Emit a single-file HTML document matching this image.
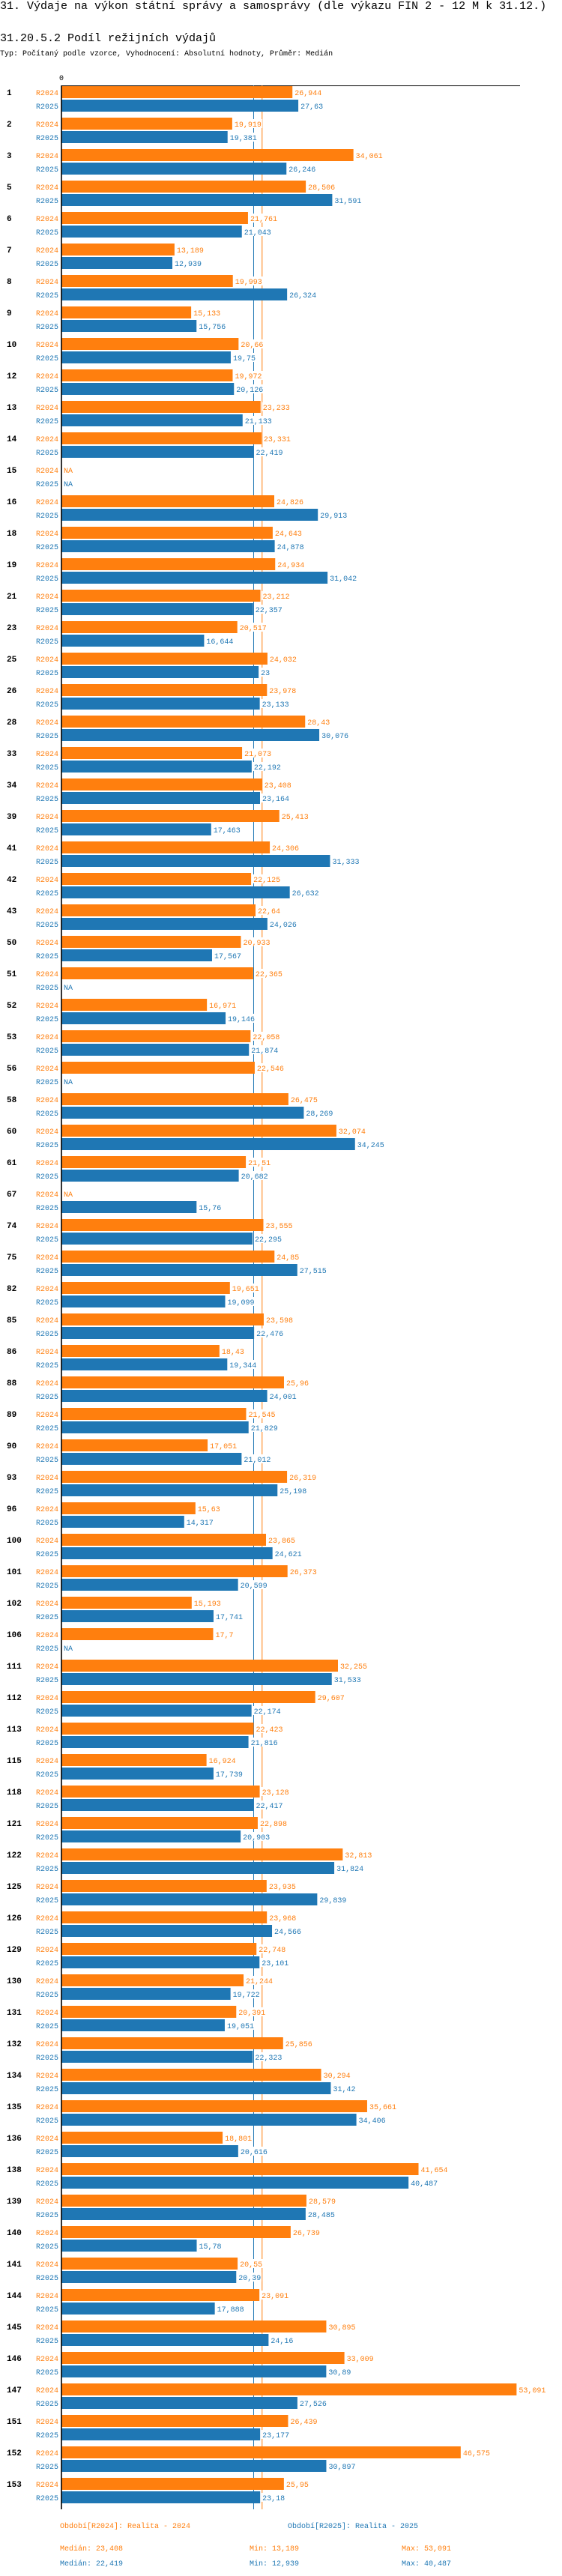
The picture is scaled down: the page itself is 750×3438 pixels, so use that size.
<!DOCTYPE html>
<html><head><meta charset="utf-8">
<style>
html,body{margin:0;padding:0;background:#fff;}
body{width:750px;height:3438px;overflow:hidden;position:relative;font-family:"Liberation Mono",monospace;}
.t{position:absolute;left:0;white-space:nowrap;color:#000;}
</style></head>
<body>
<div class="t" style="top:0px;font-size:15px;">31. Výdaje na výkon státní správy a samosprávy (dle výkazu FIN 2 - 12 M k 31.12.)</div>
<div class="t" style="top:43px;font-size:15px;">31.20.5.2 Podíl režijních výdajů</div>
<div class="t" style="top:67px;font-size:10px;">Typ: Počítaný podle vzorce, Vyhodnocení: Absolutní hodnoty, Průměr: Medián</div>
<svg id="chart" width="750" height="3438" style="position:absolute;left:0;top:0;" xmlns="http://www.w3.org/2000/svg"></svg>
<script>
const categories = ["1","2","3","5","6","7","8","9","10","12","13","14","15","16","18","19","21","23","25","26","28","33","34","39","41","42","43","50","51","52","53","56","58","60","61","67","74","75","82","85","86","88","89","90","93","96","100","101","102","106","111","112","113","115","118","121","122","125","126","129","130","131","132","134","135","136","138","139","140","141","144","145","146","147","151","152","153"];
const values2024 = [26.944,19.919,34.061,28.506,21.761,13.189,19.993,15.133,20.66,19.972,23.233,23.331,null,24.826,24.643,24.934,23.212,20.517,24.032,23.978,28.43,21.073,23.408,25.413,24.306,22.125,22.64,20.933,22.365,16.971,22.058,22.546,26.475,32.074,21.51,null,23.555,24.85,19.651,23.598,18.43,25.96,21.545,17.051,26.319,15.63,23.865,26.373,15.193,17.7,32.255,29.607,22.423,16.924,23.128,22.898,32.813,23.935,23.968,22.748,21.244,20.391,25.856,30.294,35.661,18.801,41.654,28.579,26.739,20.55,23.091,30.895,33.009,53.091,26.439,46.575,25.95];
const values2025 = [27.63,19.381,26.246,31.591,21.043,12.939,26.324,15.756,19.75,20.126,21.133,22.419,null,29.913,24.878,31.042,22.357,16.644,23,23.133,30.076,22.192,23.164,17.463,31.333,26.632,24.026,17.567,null,19.146,21.874,null,28.269,34.245,20.682,15.76,22.295,27.515,19.099,22.476,19.344,24.001,21.829,21.012,25.198,14.317,24.621,20.599,17.741,null,31.533,22.174,21.816,17.739,22.417,20.903,31.824,29.839,24.566,23.101,19.722,19.051,22.323,31.42,34.406,20.616,40.487,28.485,15.78,20.39,17.888,24.16,30.89,27.526,23.177,30.897,23.18];
const seriesNames = ["R2024","R2025"];
const medians = [23.408, 22.419];
const mins = [13.189, 12.939];
const maxs = [53.091, 40.487];

const NS = "http://www.w3.org/2000/svg";
const svg = document.getElementById("chart");
const colors = ["#ff7f0e","#1f77b4"];
const x0 = 82, pxPerUnit = 11.44, top0 = 115, pitch = 42, barH = 16;
const xs = v => x0 + v * pxPerUnit;
const yGroup = i => top0 + i * pitch;
const fmt = v => v === null ? "NA" : String(v).replace(".", ",");
const bottomY = yGroup(categories.length - 1) + 42;

function mk(tag, attrs, parent) {
  const e = document.createElementNS(NS, tag);
  for (const k in attrs) e.setAttribute(k, attrs[k]);
  (parent || svg).appendChild(e);
  return e;
}

let z = mk("text", {x: x0, y: 107, "font-size": 10, "text-anchor": "middle", "font-family": "Liberation Mono, monospace", fill: "#000"});
z.textContent = "0";


let ta = mk("line", {x1: x0, x2: 694, y1: 114.5, y2: 114.5, stroke: "#000", "stroke-width": 1});



medians.forEach((m, s) => {
  const l = mk("line", {x1: xs(m), x2: xs(m), y1: 114, y2: bottomY, stroke: colors[s], "stroke-width": 1});
  
  
});

const series = [values2024, values2025];
categories.forEach((cat, i) => {
  const gy = yGroup(i);
  const g = mk("g", {});
  
  
  const cl = mk("text", {x: 9, y: gy + 12, "font-size": 11, "font-weight": "bold", "font-family": "Liberation Mono, monospace", fill: "#000"}, g);
  cl.textContent = cat;
  
  
  series.forEach((vals, s) => {
    const by = gy + s * 18;
    const v = vals[i];
    const sl = mk("text", {x: 78, y: by + 12, "font-size": 10, "text-anchor": "end", "font-family": "Liberation Mono, monospace", fill: colors[s]}, g);
    sl.textContent = seriesNames[s];
    
    
    let endX = x0;
    if (v !== null) {
      endX = xs(v);
      const r = mk("rect", {x: x0, y: by, width: endX - x0, height: barH, fill: colors[s]}, g);
      
      
    }
    const txt = fmt(v);
    const bg = mk("rect", {x: endX + 2, y: by + 2, width: txt.length * 6 + 2, height: 12, fill: "#fff"}, g);
    
    
    const vl = mk("text", {x: endX + 3, y: by + 12, "font-size": 10, "font-family": "Liberation Mono, monospace", fill: colors[s]}, g);
    vl.textContent = txt;
    
    
  });
});

let ya = mk("line", {x1: x0, x2: x0, y1: 114, y2: bottomY, stroke: "#000", "stroke-width": 1.6});



const footY = 3374;
const legendX = [80, 384];
const legendText = ["Období[R2024]: Realita - 2024", "Období[R2025]: Realita - 2025"];
legendText.forEach((t, s) => {
  const e = mk("text", {x: legendX[s], y: footY, "font-size": 10, "font-family": "Liberation Mono, monospace", fill: colors[s]});
  e.textContent = t;
  
  
});
[0, 1].forEach(s => {
  const y = 3404 + s * 20;
  const a = mk("text", {x: 80, y: y, "font-size": 10, "font-family": "Liberation Mono, monospace", fill: colors[s]});
  a.textContent = "Medián: " + fmt(medians[s]);
  
  
  const b = mk("text", {x: 333, y: y, "font-size": 10, "font-family": "Liberation Mono, monospace", fill: colors[s]});
  b.textContent = "Min: " + fmt(mins[s]);
  
  
  const c = mk("text", {x: 536, y: y, "font-size": 10, "font-family": "Liberation Mono, monospace", fill: colors[s]});
  c.textContent = "Max: " + fmt(maxs[s]);
  
  
});
</script>
</body></html>
